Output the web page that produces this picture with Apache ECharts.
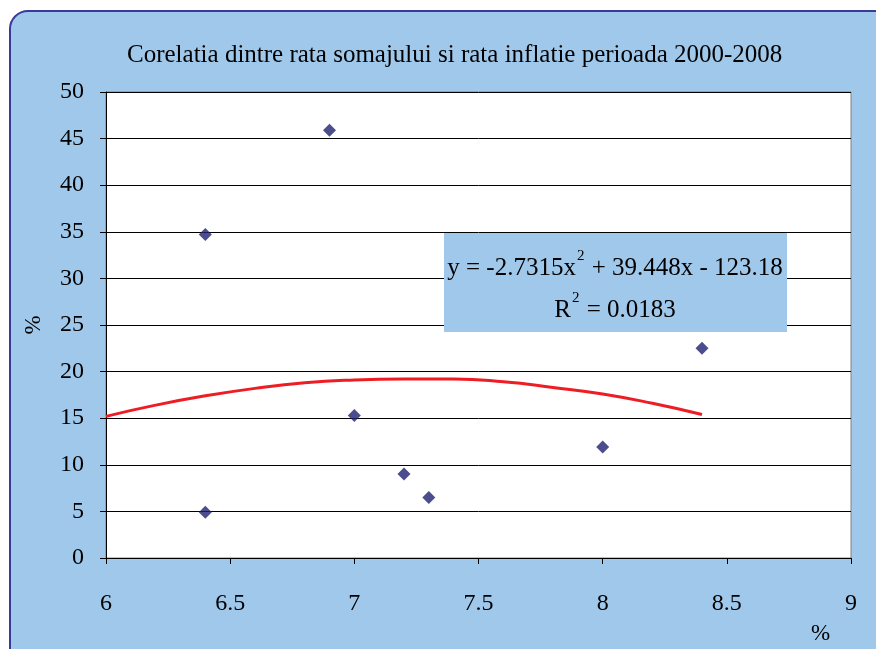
<!DOCTYPE html>
<html>
<head>
<meta charset="utf-8">
<script src="https://cdn.jsdelivr.net/npm/echarts@6/dist/echarts.min.js"></script>
<style>
  html, body { margin: 0; padding: 0; background: #fff; }
  #chart { width: 876px; height: 649px; }
</style>
</head>
<body>
<div id="chart"></div>
<script>
// somaj (x) vs inflatie (y), in %
const unemployment = [6.4, 6.4, 6.9, 7.0, 7.2, 7.3, 8.0, 8.4];
const inflation = [34.7, 4.9, 45.9, 15.3, 9.0, 6.5, 11.9, 22.5];

// polynomial trendline
const trendX = [6.0, 6.2, 6.4, 6.6, 6.8, 7.0, 7.2, 7.4, 7.6, 7.8, 8.0, 8.2, 8.4];
const trendY = [15.2, 16.4, 17.4, 18.2, 18.8, 19.1, 19.2, 19.2, 18.9, 18.3, 17.6, 16.6, 15.4];

const xTicks = [6, 6.5, 7, 7.5, 8, 8.5, 9];
const yTicks = [0, 5, 10, 15, 20, 25, 30, 35, 40, 45, 50];

const serif = '"Liberation Serif", "DejaVu Serif", serif';

initChart();

function initChart() {
    const chart = echarts.init(document.getElementById('chart'));

    const option = {
        animation: false,
        backgroundColor: '#ffffff',
        graphic: [
            {
                type: 'rect',
                z: -10,
                shape: { x: 10, y: 11, width: 900, height: 700, r: 18 },
                style: { fill: '#A0C8EA', stroke: '#3A3A9A', lineWidth: 2 }
            },
            {
                type: 'rect',
                z: 10,
                shape: { x: 444, y: 233, width: 343, height: 99 },
                style: { fill: '#A0C8EA' }
            },
            {
                type: 'text',
                z: 11,
                x: 615,
                y: 247,
                style: {
                    text: '{b|y = -2.7315x}{s|2}{b| + 39.448x - 123.18}\n{b|R}{s|2}{b| = 0.0183}',
                    align: 'center',
                    fill: '#000',
                    rich: {
                        b: { fontFamily: serif, fontSize: 25, lineHeight: 42, verticalAlign: 'middle' },
                        s: { fontFamily: serif, fontSize: 15, lineHeight: 42, verticalAlign: 'top', padding: [2, 1, 0, 1] }
                    }
                }
            },
            {
                type: 'text',
                left: 811,
                top: 622,
                style: { text: '%', fontFamily: serif, fontSize: 23, fill: '#000' }
            }
        ],
        title: {
            text: 'Corelatia dintre rata somajului si rata inflatie perioada 2000-2008',
            left: 122,
            top: 38,
            textStyle: { fontFamily: serif, fontSize: 25, fontWeight: 'normal', color: '#000' }
        },
        grid: {
            left: 106,
            top: 92,
            right: 25,
            bottom: 91,
            show: true,
            backgroundColor: '#ffffff',
            borderColor: '#808080',
            borderWidth: 1
        },
        xAxis: {
            type: 'value',
            min: 6,
            max: 9,
            interval: 0.5,
            axisLine: { show: true, onZero: false, lineStyle: { color: '#000', width: 1 } },
            axisTick: { show: true, length: 6, lineStyle: { color: '#000' } },
            axisLabel: {
                margin: 34,
                fontFamily: serif,
                fontSize: 24,
                color: '#000',
                formatter: v => String(v)
            },
            splitLine: { show: false }
        },
        yAxis: {
            type: 'value',
            min: 0,
            max: 50,
            interval: 5,
            name: '%',
            nameLocation: 'middle',
            nameGap: 61,
            nameRotate: 90,
            nameTextStyle: { fontFamily: serif, fontSize: 23, color: '#000' },
            axisLine: { show: true, lineStyle: { color: '#000', width: 1 } },
            axisTick: { show: true, length: 6, lineStyle: { color: '#000' } },
            axisLabel: { margin: 22, fontFamily: serif, fontSize: 24, color: '#000' },
            splitLine: { show: true, lineStyle: { color: '#000', width: 1 } }
        },
        series: [
            {
                type: 'line',
                data: trendX.map((x, i) => [x, trendY[i]]),
                smooth: true,
                symbol: 'none',
                lineStyle: { color: '#EE1D24', width: 3 },
                z: 3
            },
            {
                type: 'scatter',
                data: unemployment.map((x, i) => [x, inflation[i]]),
                symbol: 'diamond',
                symbolSize: [13, 13],
                itemStyle: { color: '#1F2070' },
                z: 4
            }
        ]
    };
    chart.setOption(option);
}
</script>
</body>
</html>
